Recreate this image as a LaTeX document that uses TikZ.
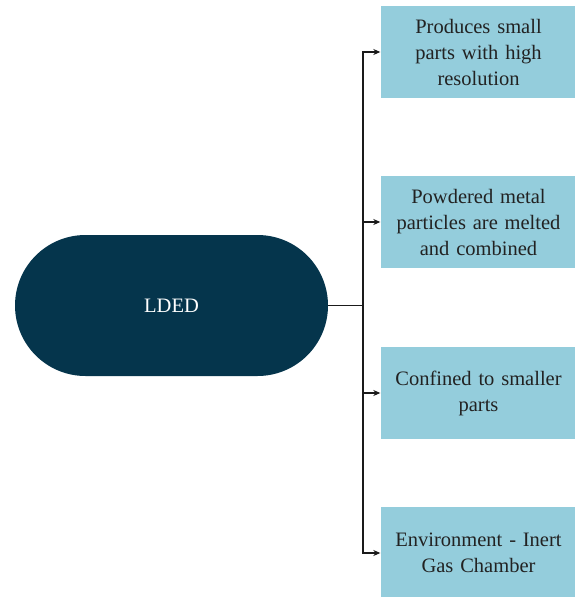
\documentclass[tikz,border=0pt]{standalone}
\usepackage{fontspec}
\setmainfont{Liberation Serif}
\usetikzlibrary{arrows.meta}
\definecolor{hubblue}{HTML}{05354C}
\definecolor{leafblue}{HTML}{94CDDC}
\definecolor{inktext}{HTML}{222222}
\definecolor{linegray}{HTML}{1A1A1A}
\begin{document}
\begin{tikzpicture}[x=1pt,y=-1pt,
  hub/.style={fill=hubblue,draw=none,minimum width=313pt,minimum height=141pt,
    rounded corners=70.5pt,text=white,font=\fontsize{20.5}{24}\selectfont},
  leaf/.style={fill=leafblue,draw=none,minimum width=196pt,minimum height=92pt,
    text width=190pt,align=center,inner sep=0pt,text=inktext,
    font=\fontsize{20.5}{26}\selectfont},
  link/.style={draw=linegray,line width=1.1pt},
  arrowlink/.style={link,-{Stealth[length=7pt,width=6pt]}}]
\useasboundingbox (0,0) rectangle (574,597);
\node[hub] (lded) at (171.5,305.5) {LDED};
\node[leaf] (b1) at (478.5,52) {Produces small\\parts with high\\resolution};
\node[leaf] (b2) at (478.5,222) {Powdered metal\\particles are melted\\and combined};
\node[leaf] (b3) at (478.5,393) {Confined to smaller\\parts};
\node[leaf] (b4) at (478.5,553) {Environment - Inert\\Gas Chamber};
\coordinate (j) at (363,305.5);
\draw[link] (lded.east) -- (j);
\draw[arrowlink] (j) |- (b1.west);
\draw[arrowlink] (j) |- (b2.west);
\draw[arrowlink] (j) |- (b3.west);
\draw[arrowlink] (j) |- (b4.west);
\end{tikzpicture}
\end{document}
